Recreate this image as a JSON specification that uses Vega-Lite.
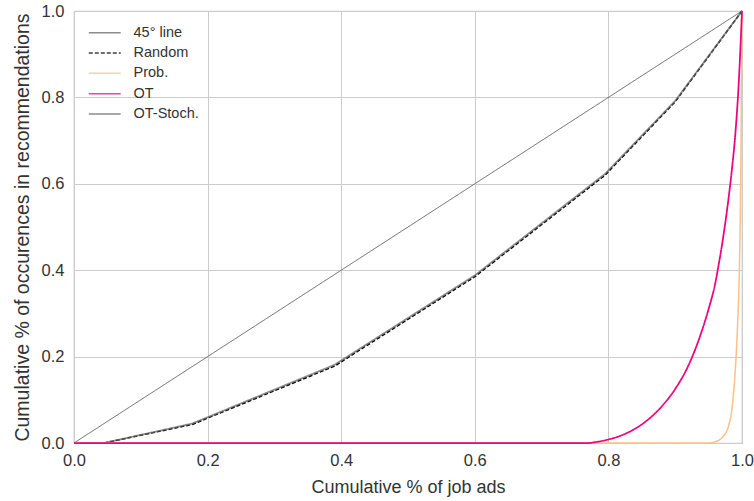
{
  "$schema": "https://vega.github.io/schema/vega-lite/v6.json",
  "width": 668,
  "height": 432,
  "autosize": {"type": "none"},
  "padding": {"left": 74, "top": 11, "right": 12, "bottom": 58},
  "background": "white",
  "config": {
    "font": "Liberation Sans",
    "view": {"stroke": "#cccccc", "strokeWidth": 1.25},
    "axis": {
      "grid": true,
      "gridColor": "#cccccc",
      "gridWidth": 1,
      "domain": false,
      "ticks": false,
      "labelFontSize": 16.5,
      "labelColor": "#333333",
      "titleFontSize": 18,
      "titleFontWeight": "normal",
      "titleColor": "#333333",
      "labelFont": "Liberation Sans",
      "titleFont": "Liberation Sans",
      "labelFlush": false
    },
    "legend": {
      "labelFontSize": 14.5,
      "labelColor": "#333333",
      "labelFont": "Liberation Sans",
      "symbolType": "M-2.9,0H2.9",
      "symbolSize": 121,
      "symbolStrokeWidth": 1.5,
      "rowPadding": 5.3,
      "labelOffset": 21.5
    }
  },
  "data": {
    "values": [
      {"series": "45° line", "x": 0, "y": 0},
      {"series": "45° line", "x": 1, "y": 1},
      {"series": "Random", "x": 0, "y": 0},
      {"series": "Random", "x": 0.045, "y": 0},
      {"series": "Random", "x": 0.177, "y": 0.043},
      {"series": "Random", "x": 0.39, "y": 0.178},
      {"series": "Random", "x": 0.6, "y": 0.385},
      {"series": "Random", "x": 0.795, "y": 0.62},
      {"series": "Random", "x": 0.9, "y": 0.79},
      {"series": "Random", "x": 1, "y": 1},
      {"series": "OT-Stoch.", "x": 0, "y": 0},
      {"series": "OT-Stoch.", "x": 0.045, "y": 0},
      {"series": "OT-Stoch.", "x": 0.177, "y": 0.045},
      {"series": "OT-Stoch.", "x": 0.39, "y": 0.181},
      {"series": "OT-Stoch.", "x": 0.6, "y": 0.388},
      {"series": "OT-Stoch.", "x": 0.795, "y": 0.623},
      {"series": "OT-Stoch.", "x": 0.9, "y": 0.792},
      {"series": "OT-Stoch.", "x": 1, "y": 1},
      {"series": "Prob.", "x": 0, "y": 0},
      {"series": "Prob.", "x": 0.95, "y": 0},
      {"series": "Prob.", "x": 0.96, "y": 0.003},
      {"series": "Prob.", "x": 0.97, "y": 0.012},
      {"series": "Prob.", "x": 0.98, "y": 0.04},
      {"series": "Prob.", "x": 0.985, "y": 0.08},
      {"series": "Prob.", "x": 0.99, "y": 0.17},
      {"series": "Prob.", "x": 0.993, "y": 0.26},
      {"series": "Prob.", "x": 0.996, "y": 0.4},
      {"series": "Prob.", "x": 0.998, "y": 0.6},
      {"series": "Prob.", "x": 1, "y": 1},
      {"series": "OT", "x": 0, "y": 0},
      {"series": "OT", "x": 0.77, "y": 0},
      {"series": "OT", "x": 0.78, "y": 0.002},
      {"series": "OT", "x": 0.8, "y": 0.008},
      {"series": "OT", "x": 0.82, "y": 0.018},
      {"series": "OT", "x": 0.84, "y": 0.033},
      {"series": "OT", "x": 0.86, "y": 0.055},
      {"series": "OT", "x": 0.88, "y": 0.085},
      {"series": "OT", "x": 0.9, "y": 0.125},
      {"series": "OT", "x": 0.92, "y": 0.18},
      {"series": "OT", "x": 0.94, "y": 0.26},
      {"series": "OT", "x": 0.95, "y": 0.31},
      {"series": "OT", "x": 0.96, "y": 0.37},
      {"series": "OT", "x": 0.965, "y": 0.412},
      {"series": "OT", "x": 0.97, "y": 0.458},
      {"series": "OT", "x": 0.975, "y": 0.51},
      {"series": "OT", "x": 0.98, "y": 0.568},
      {"series": "OT", "x": 0.985, "y": 0.635},
      {"series": "OT", "x": 0.99, "y": 0.715},
      {"series": "OT", "x": 0.995, "y": 0.83},
      {"series": "OT", "x": 1, "y": 1}
    ]
  },
  "encoding": {
    "x": {
      "field": "x", "type": "quantitative",
      "scale": {"domain": [0, 1], "nice": false, "zero": false},
      "axis": {"title": "Cumulative % of job ads", "values": [0, 0.2, 0.4, 0.6, 0.8, 1], "format": ".1f", "labelPadding": 9, "titlePadding": 10}
    },
    "y": {
      "field": "y", "type": "quantitative",
      "scale": {"domain": [0, 1], "nice": false, "zero": false},
      "axis": {"title": "Cumulative % of occurences in recommendations", "values": [0, 0.2, 0.4, 0.6, 0.8, 1], "format": ".1f", "labelPadding": 10, "titlePadding": 9, "titleFontSize": 19.5}
    },
    "color": {
      "field": "series", "type": "nominal",
      "scale": {
        "domain": ["45° line", "Random", "Prob.", "OT", "OT-Stoch."],
        "range": ["#666666", "#000000", "#fdc086", "#f0027f", "#666666"]
      },
      "legend": {"title": null, "orient": "none", "legendX": 23.5, "legendY": 14.5}
    },
    "strokeDash": {
      "field": "series", "type": "nominal",
      "scale": {
        "domain": ["45° line", "Random", "Prob.", "OT", "OT-Stoch."],
        "range": [[1, 0], [4, 2], [1, 0], [1, 0], [1, 0]]
      },
      "legend": {"title": null, "orient": "none", "legendX": 23.5, "legendY": 14.5}
    }
  },
  "layer": [
    {"transform": [{"filter": "datum.series === '45° line'"}], "mark": {"type": "line", "strokeWidth": 1}},
    {"transform": [{"filter": "datum.series === 'Random'"}], "mark": {"type": "line", "strokeWidth": 1.5}},
    {"transform": [{"filter": "datum.series === 'OT-Stoch.'"}], "mark": {"type": "line", "strokeWidth": 1.75, "opacity": 0.75}},
    {"transform": [{"filter": "datum.series === 'Prob.'"}], "mark": {"type": "line", "strokeWidth": 1.5, "interpolate": "monotone"}},
    {"transform": [{"filter": "datum.series === 'OT'"}], "mark": {"type": "line", "strokeWidth": 1.75, "interpolate": "monotone"}}
  ]
}
